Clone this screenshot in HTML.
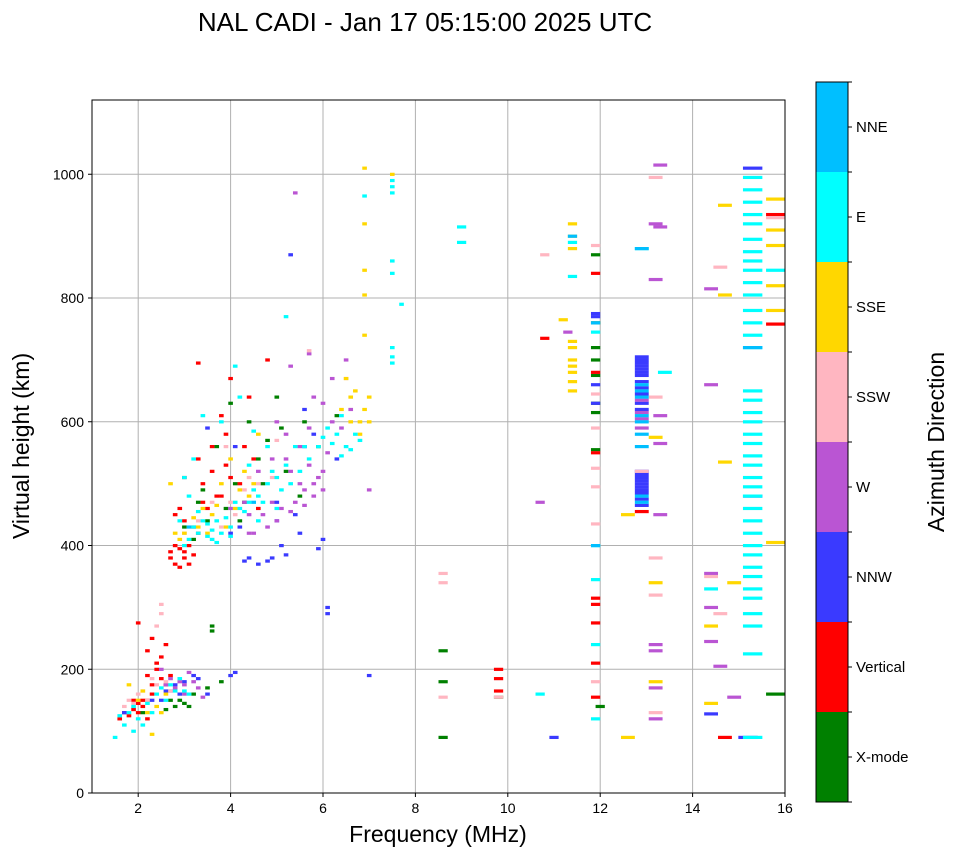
<!DOCTYPE html>
<html><head><meta charset="utf-8">
<style>
html,body{margin:0;padding:0;background:#fff;}
svg{display:block;font-family:"Liberation Sans",sans-serif;}
</style></head>
<body>
<svg id="chart" width="958" height="857" viewBox="0 0 958 857">
<text x="425" y="31" font-size="26" text-anchor="middle" fill="#000">NAL CADI - Jan 17 05:15:00 2025 UTC</text>
<g id="grid"></g>
<g id="marks"></g>
<rect x="92" y="100" width="693" height="693" fill="none" stroke="#000" stroke-width="1"/>
<g id="axes"></g>
<text x="438" y="842" font-size="23" text-anchor="middle">Frequency (MHz)</text>
<text transform="translate(29,446) rotate(-90)" font-size="23" text-anchor="middle">Virtual height (km)</text>
<g id="cbar"></g>
<text transform="translate(944,442) rotate(-90)" font-size="23" text-anchor="middle">Azimuth Direction</text>
</svg>
<script>
const categories=["X-mode","Vertical","NNW","W","SSW","SSE","E","NNE"];
const catColors=["#008000","#ff0000","#3a3aff","#ba55d3","#ffb6c1","#ffd700","#00ffff","#00bfff"];
const xTicks=[2,4,6,8,10,12,14,16];
const yTicks=[0,200,400,600,800,1000];

const xmodeF=[2.8,2.9,3.0,3.2,3.6,3.6,3.8,3.5,2.1,2.6,3.2,3.5,3.9,4.2,4.1,3.7,4.0,4.4,4.8,5.0,5.2,5.5,5.9,6.3,3.3,4.6,8.6,8.6,8.6,9.8,11.9,11.9,11.9,11.9,11.9,11.9,11.9,11.9,12.0,15.8,3.0,3.4,4.3,4.7,5.1,5.6,2.7,3.1];
const xmodeH=[140,150,145,160,270,262,180,170,130,135,410,440,460,440,500,560,630,600,570,640,520,480,560,610,470,540,230,180,90,155,870,760,720,700,675,630,615,555,140,160,430,490,470,500,590,600,150,140];
const vertF=[1.6,1.8,2.0,2.1,2.2,2.3,2.4,2.5,2.6,2.0,2.3,2.2,2.7,1.9,2.8,2.9,3.0,2.7,3.1,3.2,3.4,3.0,3.3,3.6,3.8,3.3,4.0,4.4,3.5,2.9,4.0,4.6,4.8,3.8,9.8,9.8,9.8,10.8,11.9,11.9,11.9,11.9,11.9,11.9,11.9,11.9,12.9,14.7,15.8,15.8,2.8,3.0,2.9,3.1,2.7,3.2,3.4,3.6,3.7,3.9,4.2,4.5,3.3,3.0,2.8,4.3,3.9,1.7,1.9,2.1,2.3,2.4,2.2,2.5,2.6,2.0,2.2];
const vertH=[120,125,130,140,150,175,200,220,240,275,250,190,190,150,370,365,380,390,400,430,470,510,540,560,610,695,670,640,460,460,510,460,700,480,200,185,165,735,840,680,550,315,305,275,210,155,455,90,935,758,400,390,395,370,380,385,500,520,480,530,500,540,420,440,450,560,580,130,135,150,160,210,230,185,175,145,120];
const nnwF=[1.7,2.3,2.6,2.8,3.0,3.2,3.5,4.0,4.1,2.9,4.3,4.6,4.8,5.2,5.1,5.9,6.0,4.0,5.0,5.4,3.5,4.1,5.6,5.8,6.3,5.3,6.1,6.1,11.0,11.9,11.9,11.9,11.9,12.9,12.9,12.9,12.9,12.9,12.9,12.9,12.9,12.9,14.4,15.2,15.3,15.3,7.0,4.4,4.9,5.5,4.2,2.5,2.7,3.3,5.0,5.6,12.9,12.9,12.9,12.9,12.9,12.9,12.9,12.9,12.9,12.9,12.9,12.9,12.9];
const nnwH=[130,150,165,175,180,190,160,190,195,160,375,370,375,385,400,395,410,420,440,450,590,560,620,580,540,870,300,290,90,775,770,660,630,500,510,490,520,700,690,680,630,620,128,90,1010,480,190,380,380,420,430,150,165,185,470,560,465,475,485,495,505,515,645,655,665,675,685,695,705];
const wF=[2.8,3.0,3.2,3.4,2.7,3.1,2.5,4.0,4.3,4.5,4.8,5.0,5.3,5.6,5.8,6.0,5.5,5.2,5.7,6.1,6.4,6.6,5.0,5.8,6.2,5.3,5.7,5.4,4.4,10.7,7.0,6.5,4.9,11.3,12.9,12.9,12.9,12.9,13.3,13.2,13.2,13.3,13.2,13.2,13.2,13.2,13.3,13.3,13.3,14.4,14.4,14.4,14.4,14.4,14.6,14.9,4.4,4.7,5.1,5.4,5.6,5.9,6.0,5.8,5.3,4.6,4.9,5.5,5.7,6.2,6.0,5.2,2.9,3.3,3.0,2.6];
const wH=[170,175,180,155,185,195,200,460,470,420,430,440,455,465,480,490,500,540,530,550,590,620,600,640,670,690,710,970,420,470,490,700,470,745,590,605,615,635,1015,830,920,915,240,230,170,120,450,610,565,815,660,355,300,245,205,155,450,450,460,470,490,510,520,500,520,520,540,560,590,600,630,580,180,170,160,175];
const sswF=[1.7,1.9,2.0,2.4,2.6,2.2,2.5,2.5,2.4,3.0,3.3,3.6,4.1,4.3,4.6,4.9,5.7,6.5,8.6,8.6,8.6,9.8,10.8,11.9,11.9,11.9,11.9,11.9,11.9,11.9,12.9,13.2,13.2,13.2,13.2,14.6,14.4,14.6,15.8,13.2,3.8,4.0,4.4,1.8,2.1,2.3,2.7,5.0,3.9];
const sswH=[140,145,160,175,180,150,305,290,270,420,440,470,450,490,500,510,715,670,355,340,155,155,870,885,645,590,525,495,435,180,520,995,380,320,130,290,350,850,930,640,430,470,510,150,165,185,165,570,560];
const sseF=[2.3,2.2,2.4,2.1,1.8,2.9,2.8,2.7,3.3,3.5,3.6,3.9,4.1,4.2,4.5,4.0,4.6,6.5,6.7,6.9,6.6,6.8,6.9,6.9,6.9,6.9,6.9,7.5,7.0,7.0,11.2,11.4,11.4,11.4,11.4,11.4,11.4,11.4,11.4,11.4,11.4,12.6,12.6,13.2,13.2,13.2,14.4,14.4,14.7,14.7,14.7,14.9,15.8,15.8,15.8,15.8,15.8,15.8,3.0,3.2,3.4,3.7,3.8,4.3,4.4,6.6,6.4,6.8,2.6,2.0,2.5];
const sseH=[95,130,140,165,175,410,420,500,430,420,450,430,460,490,500,540,580,670,650,620,600,580,1010,920,845,805,740,1000,640,600,765,920,730,720,700,690,680,665,650,900,880,450,90,575,340,180,270,145,950,805,535,340,960,910,885,820,780,405,420,445,460,465,500,520,480,640,620,600,160,150,130];
const eF=[1.5,1.6,1.8,2.0,2.2,2.4,2.6,2.8,3.0,2.1,
3.0,3.1,3.3,3.5,3.6,3.7,3.8,4.0,4.2,4.4,
4.6,4.8,5.0,5.2,5.4,5.6,6.0,6.2,6.4,6.6,
6.8,6.4,4.5,4.2,4.1,3.0,3.2,3.4,5.2,7.5,
7.5,7.5,6.9,7.5,7.5,7.5,7.5,7.5,9.0,9.0,
7.7,10.7,11.4,11.4,11.9,11.9,11.9,11.9,11.9,12.9,
13.4,14.4,
15.3,15.3,15.3,15.3,15.3,15.3,15.3,15.3,15.3,15.3,
15.3,15.3,15.3,15.3,15.3,15.3,15.3,15.3,15.3,15.3,
15.3,15.3,15.3,15.3,15.3,15.3,15.3,15.3,15.3,15.3,
15.3,15.3,15.3,15.3,15.3,15.3,15.3,15.3,15.3,
15.8,
3.2,3.4,3.6,3.9,4.1,4.3,4.5,4.7,4.9,5.1,5.3,5.5,5.7,5.9,6.1,6.3,6.5,6.7,
3.3,3.5,3.7,4.0,4.4,4.8,3.8,3.1,2.9,5.0,4.6,
1.7,1.9,2.3,2.5,2.7,2.9,3.1,1.9];
const eH=[90,125,130,120,145,160,150,165,165,110,
400,410,420,415,425,440,420,430,460,470,
480,500,510,530,560,560,575,565,545,555,
570,610,585,640,690,510,540,610,770,990,
980,970,965,860,840,720,705,695,915,890,
790,160,890,835,745,400,345,240,120,880,
680,330,
995,975,955,935,920,895,875,860,845,825,
805,780,760,740,720,650,635,615,600,580,
565,545,530,510,495,480,460,440,420,400,
385,365,350,330,315,290,270,225,90,
845,
430,440,410,445,470,455,490,470,520,490,500,520,540,560,590,580,560,580,
455,435,405,415,530,560,600,480,440,460,440,
110,140,130,170,175,185,160,100];
const nneF=[12.9,12.9,12.9,12.9,12.9,12.9,12.9,12.9,11.9,11.4,3.1,4.5,11.9,15.3,12.9,12.9];
const nneH=[480,470,560,580,600,650,660,880,760,900,430,470,400,720,640,610];

const seriesF=[xmodeF,vertF,nnwF,wF,sswF,sseF,eF,nneF];
const seriesH=[xmodeH,vertH,nnwH,wH,sswH,sseH,eH,nneH];

const NS="http://www.w3.org/2000/svg";
const X0=92,X1=785,Y0=793,Y1=100,FMIN=1,FMAX=16,HMIN=0,HMAX=1120;
function xs(f){return X0+(f-FMIN)/(FMAX-FMIN)*(X1-X0);}
function ys(h){return Y0-(h-HMIN)/(HMAX-HMIN)*(Y0-Y1);}
function binW(f){return f<8?0.1:(f<12.5?0.2:(f<15?0.3:0.42));}
function mk(tag,attrs,parent){const e=document.createElementNS(NS,tag);for(const k in attrs)e.setAttribute(k,attrs[k]);parent.appendChild(e);return e;}

const grid=document.getElementById('grid'),axes=document.getElementById('axes');
xTicks.forEach(t=>{
  const x=xs(t);
  const g=mk('line',{x1:x,x2:x,y1:Y1,y2:Y0,stroke:'#b0b0b0','stroke-width':1},grid);
  
  
  const tk=mk('line',{x1:x,x2:x,y1:Y0,y2:Y0+4,stroke:'#000'},axes);
  
  
  const tl=mk('text',{x:x,y:Y0+20,'font-size':14,'text-anchor':'middle'},axes);
  tl.textContent=t;
  
  
});
yTicks.forEach(t=>{
  const y=ys(t);
  const g=mk('line',{x1:X0,x2:X1,y1:y,y2:y,stroke:'#b0b0b0','stroke-width':1},grid);
  
  
  const tk=mk('line',{x1:X0-4,x2:X0,y1:y,y2:y,stroke:'#000'},axes);
  
  
  const tl=mk('text',{x:X0-8,y:y+5,'font-size':14,'text-anchor':'end'},axes);
  tl.textContent=t;
  
  
});

const marks=document.getElementById('marks');
seriesF.forEach((fs,ci)=>{
  fs.forEach((f,i)=>{
    const h=seriesH[ci][i];
    const wM=binW(f);
    const x=xs(f-wM/2),w=xs(f+wM/2)-x;
    const r=mk('rect',{x:x,y:ys(h)-1.5,width:w,height:3.2,fill:catColors[ci]},marks);
    
    
  });
});

const cbar=document.getElementById('cbar');
const CX=816,CW=32,CT=82,CB=802,bh=(CB-CT)/categories.length;
categories.forEach((c,i)=>{
  const y=CB-(i+1)*bh;
  const r=mk('rect',{x:CX,y:y,width:CW,height:bh,fill:catColors[i]},cbar);
  
  
  const tk=mk('line',{x1:CX+CW,x2:CX+CW+4,y1:y+bh/2,y2:y+bh/2,stroke:'#000'},cbar);
  
  
  const t=mk('text',{x:CX+CW+8,y:y+bh/2+5,'font-size':15},cbar);
  t.textContent=c;
  
  
});
for(let i=0;i<=categories.length;i++){
  const y=CB-i*bh;
  const l=mk('line',{x1:CX+CW,x2:CX+CW+4,y1:y,y2:y,stroke:'#000'},cbar);
  
  
}
const fr=mk('rect',{x:CX,y:CT,width:CW,height:CB-CT,fill:'none',stroke:'#000'},cbar);


</script>
</body></html>
